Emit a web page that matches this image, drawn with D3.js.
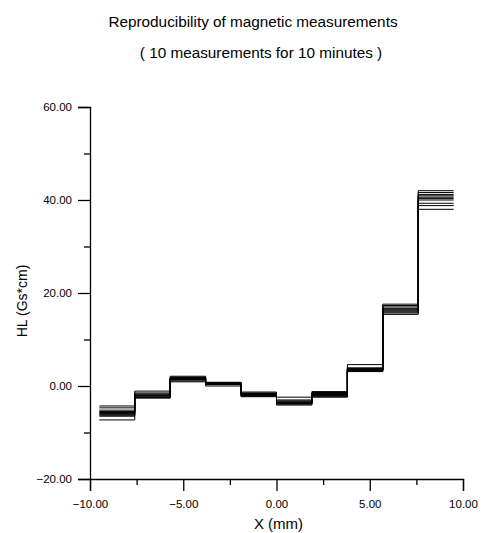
<!DOCTYPE html>
<html>
<head>
<meta charset="utf-8">
<script src="https://cdn.jsdelivr.net/npm/d3@7"></script>
<style>
    body { margin: 0; background: #fff; }
    text { font-family: "Liberation Sans", Arial, sans-serif; fill: #000; }
</style>
</head>
<body>
<div id="chart"></div>
<script>

// bin edges of the step curves (mm)
const binEdges = [-9.5, -7.6, -5.7, -3.8, -1.9, 0, 1.9, 3.8, 5.7, 7.6, 9.5];

// HL value of every measurement in each bin (Gs*cm), one column per measurement
const bin1 = [-4.3, -4.7, -5.2, -5.5, -5.7, -5.9, -6.1, -6.3, -6.5, -7.3];
const bin2 = [-1.1, -1.5, -1.7, -1.9, -2.0, -2.1, -2.2, -2.4, -2.5, -2.6];
const bin3 = [2.1, 1.9, 1.8, 1.7, 1.6, 1.5, 1.4, 1.3, 1.1, 0.9];
const bin4 = [0.8, 0.7, 0.6, 0.6, 0.5, 0.5, 0.4, 0.4, 0.3, 0.0];
const bin5 = [-1.3, -1.5, -1.6, -1.7, -1.8, -1.9, -2.0, -2.1, -2.2, -2.3];
const bin6 = [-2.4, -3.0, -3.2, -3.4, -3.5, -3.6, -3.7, -3.8, -3.9, -4.1];
const bin7 = [-1.2, -1.4, -1.6, -1.7, -1.8, -1.9, -2.0, -2.1, -2.3, -2.4];
const bin8 = [4.6, 3.9, 3.8, 3.7, 3.6, 3.5, 3.4, 3.3, 3.2, 3.1];
const bin9 = [17.6, 17.3, 17.0, 16.7, 16.5, 16.3, 16.1, 15.9, 15.7, 15.4];
const bin10 = [42.0, 41.6, 41.2, 40.9, 40.6, 40.3, 40.0, 39.3, 38.8, 38.0];

const bins = [bin1, bin2, bin3, bin4, bin5, bin6, bin7, bin8, bin9, bin10];

const xTicks = [-10, -5, 0, 5, 10];
const xMinorTicks = [-7.5, -2.5, 2.5, 7.5];
const yTicks = [-20, 0, 20, 40, 60];
const yMinorTicks = [-10, 10, 30, 50];

const title = "Reproducibility of magnetic measurements";
const subtitle = "( 10 measurements for 10 minutes )";
const xLabel = "X (mm)";
const yLabel = "HL (Gs*cm)";

const width = 496;
const height = 533;
const margin = { top: 107, left: 90, right: 33, bottom: 54 };

const svg = d3.select("#chart")
    .append("svg")
    .attr("width", width)
    .attr("height", height);

const xScale = d3.scaleLinear()
    .domain([-10, 10])
    .range([margin.left, width - margin.right]);

const yScale = d3.scaleLinear()
    .domain([-20, 60])
    .range([height - margin.bottom, margin.top]);

const fmt = d3.format(".2f");

/*
AXES
*/
const xAxis = svg.append("g")
    .attr("transform", `translate(0,${height - margin.bottom})`)
    .call(d3.axisBottom(xScale).tickValues(xTicks).tickSize(12).tickPadding(9).tickFormat(fmt));

svg.append("g")
    .attr("transform", `translate(0,${height - margin.bottom})`)
    .call(d3.axisBottom(xScale).tickValues(xMinorTicks).tickSize(6).tickFormat(""))
    .select(".domain").remove();

const yAxis = svg.append("g")
    .attr("transform", `translate(${margin.left},0)`)
    .call(d3.axisLeft(yScale).tickValues(yTicks).tickSize(12).tickPadding(6).tickFormat(fmt));

svg.append("g")
    .attr("transform", `translate(${margin.left},0)`)
    .call(d3.axisLeft(yScale).tickValues(yMinorTicks).tickSize(6).tickFormat(""))
    .select(".domain").remove();

svg.selectAll(".domain").attr("stroke", "#000").attr("stroke-width", 1.3);
svg.selectAll(".tick line").attr("stroke", "#000").attr("stroke-width", 1.3);
svg.selectAll(".tick text")
    .style("font-family", "'Liberation Sans', Arial, sans-serif")
    .style("font-size", "11.5px");

/*
STEP LINES
*/
const series = d3.range(10).map(function (i) {
    const pts = bins.map(function (b, j) { return { x: binEdges[j], y: b[i] }; });
    pts.push({ x: binEdges[binEdges.length - 1], y: bins[bins.length - 1][i] });
    return pts;
});

const line = d3.line()
    .x(function (d) { return xScale(d.x); })
    .y(function (d) { return yScale(d.y); })
    .curve(d3.curveStepAfter);

svg.selectAll(".measure")
    .data(series)
    .enter()
    .append("path")
    .attr("class", "measure")
    .attr("d", line)
    .attr("fill", "none")
    .attr("stroke", "#000")
    .attr("stroke-width", 1);

/*
TITLES AND LABELS
*/
svg.append("text")
    .attr("x", 253)
    .attr("y", 27)
    .attr("text-anchor", "middle")
    .style("font-size", "15.3px")
    .text(title);

svg.append("text")
    .attr("x", 261)
    .attr("y", 58)
    .attr("text-anchor", "middle")
    .style("font-size", "15.3px")
    .text(subtitle);

svg.append("text")
    .attr("x", xScale(0) + 2)
    .attr("y", 529)
    .attr("text-anchor", "middle")
    .style("font-size", "15px")
    .text(xLabel);

svg.append("text")
    .attr("transform", "rotate(-90)")
    .attr("x", -301)
    .attr("y", 27)
    .attr("text-anchor", "middle")
    .style("font-size", "14px")
    .text(yLabel);

</script>
</body>
</html>
